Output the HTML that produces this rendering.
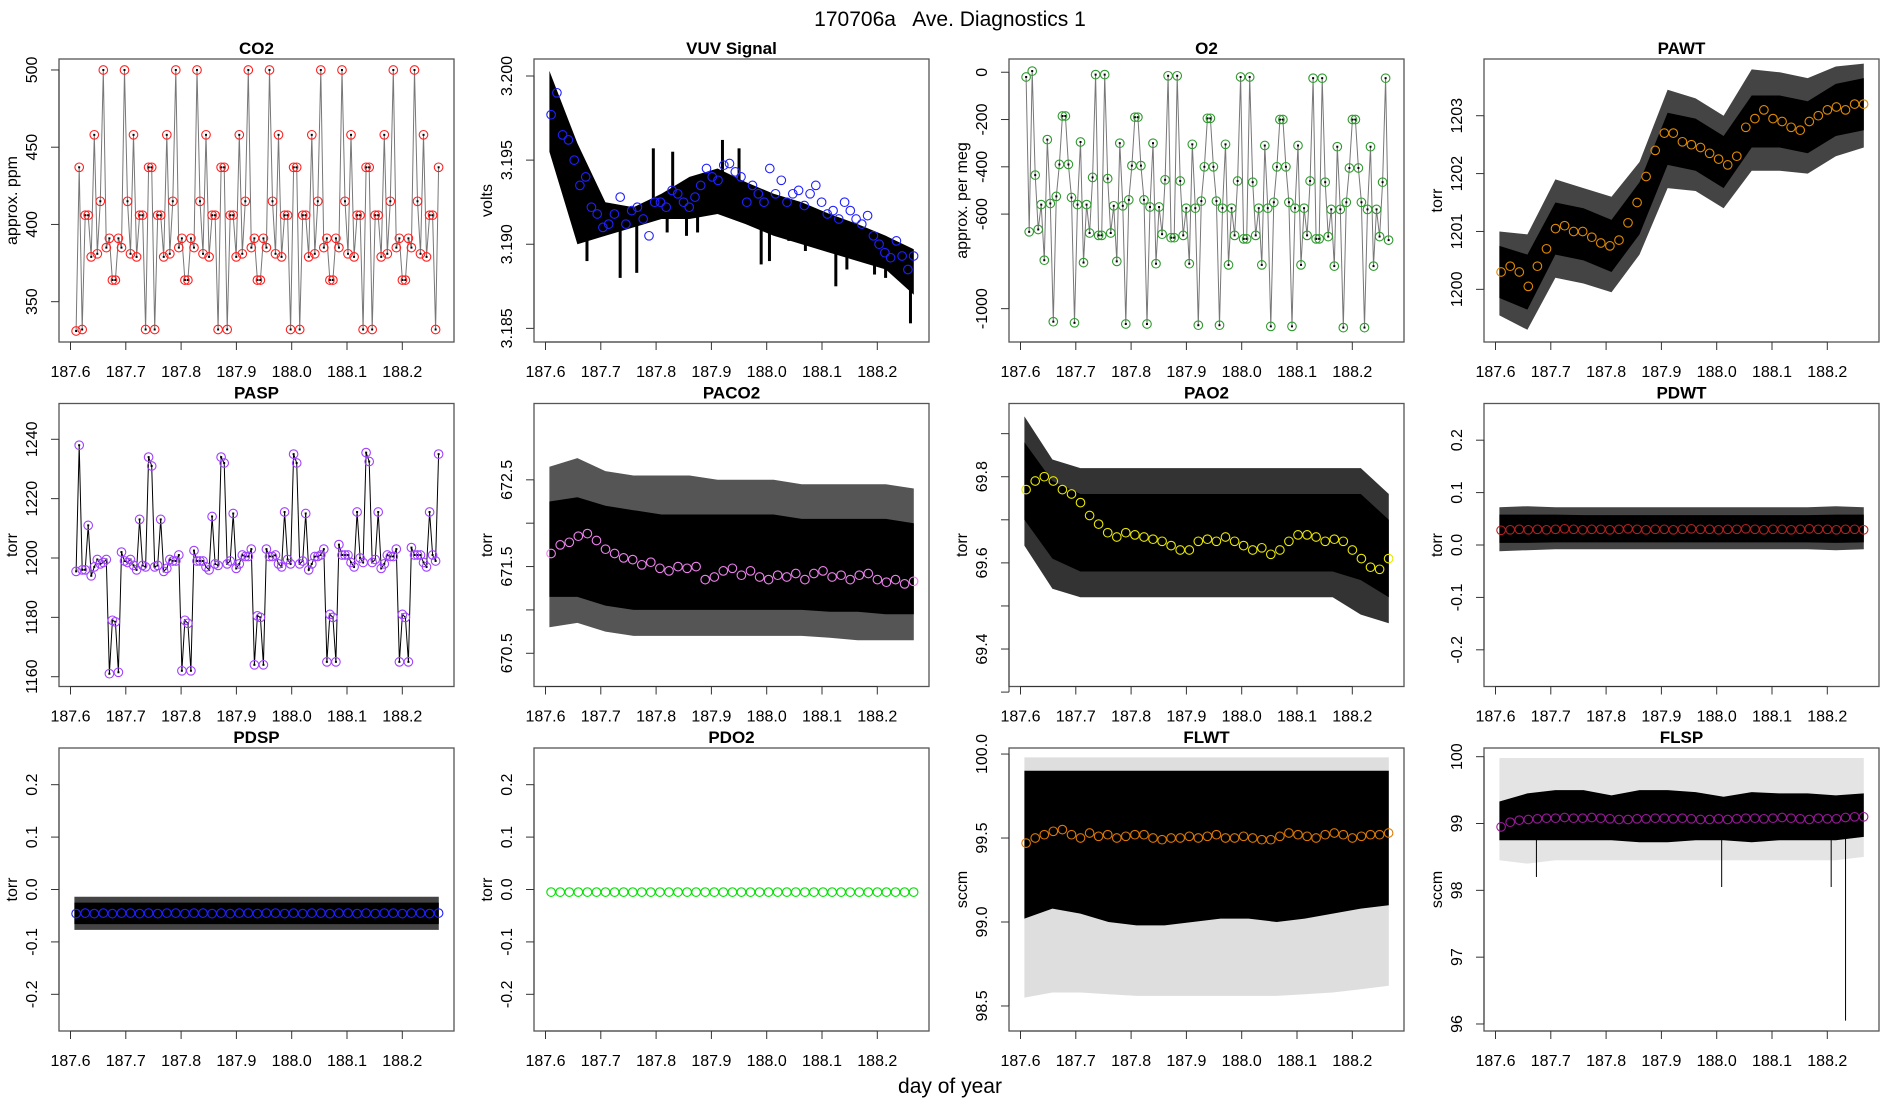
<!DOCTYPE html>
<html><head><meta charset="utf-8">
<style>
html,body{margin:0;padding:0;background:#fff;}
svg{display:block;font-family:"Liberation Sans",Arial,sans-serif;}
.pre{white-space:pre;}
</style></head>
<body>
<svg id="chart" width="1900" height="1100" viewBox="0 0 1900 1100" xmlns="http://www.w3.org/2000/svg">
<text class="pre" x="950" y="26" text-anchor="middle" font-size="21" xml:space="preserve">170706a   Ave. Diagnostics 1</text>
<text x="950" y="1093" text-anchor="middle" font-size="21">day of year</text>
</svg>
<script>
// ---- shared time axis ----
const xTickLabels = ["187.6","187.7","187.8","187.9","188.0","188.1","188.2"];
const xTickValues = [187.6,187.7,187.8,187.9,188.0,188.1,188.2];
const tStart = 187.6102, tEnd = 188.2657;
const envT0 = 187.607, envT1 = 188.266;

// ---- CO2 ----
const co2Values = [331,437,332,406,406,379,458,381,415,500,385,391,364,364,391,385,500,415,381,458,379,406,406,332,437,437,332,406,406,379,458,381,415,500,385,391,364,364,391,385,500,415,381,458,379,406,406,332,437,437,332,406,406,379,458,381,415,500,385,391,364,364,391,385,500,415,381,458,379,406,406,332,437,437,332,406,406,379,458,381,415,500,385,391,364,364,391,385,500,415,381,458,379,406,406,332,437,437,332,406,406,379,458,381,415,500,385,391,364,364,391,385,500,415,381,458,379,406,406,332,437];
const co2Ticks = [350,400,450,500];
// ---- O2 ----
const o2Values = [-20,-675,5,-435,-665,-560,-795,-285,-555,-1055,-525,-390,-185,-185,-390,-530,-1060,-560,-295,-805,-560,-680,-445,-10,-690,-690,-10,-450,-680,-565,-800,-300,-565,-1065,-540,-395,-190,-190,-395,-540,-1065,-570,-300,-810,-570,-685,-455,-15,-700,-700,-15,-460,-690,-575,-810,-305,-575,-1070,-545,-400,-195,-195,-400,-545,-1070,-575,-305,-815,-575,-690,-460,-20,-705,-705,-20,-465,-690,-575,-815,-310,-575,-1075,-550,-400,-200,-200,-400,-550,-1075,-575,-310,-815,-575,-690,-460,-25,-705,-705,-25,-465,-695,-580,-820,-315,-580,-1080,-550,-405,-200,-200,-405,-550,-1080,-580,-315,-820,-580,-695,-465,-25,-710];
const o2Ticks = [0,-200,-400,-600,-1000];
// ---- PASP ----
const paspValues = [1195.5,1238,1196,1196,1211,1194,1197,1199.5,1198,1198.5,1199.5,1161,1179,1178.5,1161.5,1202,1199,1198.5,1199.5,1197.5,1196,1213,1197.5,1197,1234,1231,1197,1197.5,1213,1195.5,1196.5,1199.5,1199,1199,1201,1162,1179,1178,1162,1202.5,1199,1199,1199,1197,1196,1214,1198,1197.5,1234,1232,1198,1199,1215,1196.5,1198,1201,1200.5,1200.5,1203,1164,1180.5,1180,1164,1203,1200.5,1200.5,1201,1198,1197,1215.5,1199.5,1198,1235,1232,1198,1199,1215,1196,1198,1200.5,1200.5,1201,1203,1165,1181,1180,1165,1204.5,1201,1201,1201,1198.5,1197,1215.5,1200,1198.5,1235.5,1232.5,1198.5,1199.5,1215.5,1196.5,1198,1201,1200.5,1200.5,1203,1165,1181,1180,1165,1203.5,1201,1201,1201,1198.5,1197,1215.5,1201,1199,1235];
const paspTicks = [1160,1180,1200,1220,1240];
// ---- VUV ----
const vuvMeans = [3.1977,3.1990,3.1965,3.1962,3.1950,3.1935,3.1940,3.1922,3.1918,3.1910,3.1912,3.1918,3.1928,3.1912,3.1920,3.1922,3.1915,3.1905,3.1925,3.1925,3.1922,3.1932,3.1930,3.1925,3.1922,3.1928,3.1935,3.1945,3.1940,3.1938,3.1947,3.1948,3.1943,3.1940,3.1925,3.1935,3.1930,3.1925,3.1945,3.1930,3.1938,3.1925,3.1930,3.1932,3.1923,3.1930,3.1935,3.1925,3.1918,3.1920,3.1915,3.1925,3.1920,3.1915,3.1912,3.1917,3.1905,3.1900,3.1895,3.1892,3.1902,3.1893,3.1885,3.1893];
const vuvInnerHi = [3.2003,3.1960,3.1925,3.1922,3.1930,3.1940,3.1945,3.1937,3.1930,3.1925,3.1918,3.1912,3.1905,3.1897];
const vuvInnerLo = [3.1955,3.1900,3.1905,3.1910,3.1915,3.1915,3.1918,3.1912,3.1905,3.1900,3.1895,3.1890,3.1885,3.1870];
const vuvSpikeT = [187.63,187.645,187.675,187.705,187.735,187.765,187.795,187.82,187.83,187.855,187.875,187.92,187.95,187.99,188.005,188.04,188.07,188.125,188.145,188.17,188.195,188.215,188.245,188.26];
const vuvSpikeV = [3.1938,3.1925,3.1890,3.1905,3.1880,3.1883,3.1957,3.1907,3.1955,3.1905,3.1907,3.1962,3.1957,3.1888,3.1890,3.1902,3.1896,3.1875,3.1885,3.1893,3.1882,3.1880,3.1880,3.1853];
const vuvTicks = [3.185,3.190,3.195,3.200];
const vuvTickLabels = ["3.185","3.190","3.195","3.200"];
// ---- PAWT ----
const pawtMeans = [1200.3,1200.4,1200.3,1200.05,1200.4,1200.7,1201.05,1201.1,1201.0,1201.0,1200.9,1200.8,1200.75,1200.85,1201.15,1201.5,1201.95,1202.4,1202.7,1202.7,1202.55,1202.5,1202.45,1202.35,1202.25,1202.15,1202.3,1202.8,1202.95,1203.1,1202.95,1202.9,1202.8,1202.75,1202.9,1203.0,1203.1,1203.15,1203.1,1203.2,1203.2];
const pawtInnerHi = [1200.75,1200.6,1201.5,1201.4,1201.2,1201.85,1203.05,1202.95,1202.65,1203.35,1203.35,1203.25,1203.55,1203.65];
const pawtInnerLo = [1199.85,1199.65,1200.6,1200.5,1200.3,1200.95,1202.15,1202.05,1201.75,1202.45,1202.45,1202.35,1202.65,1202.75];
const pawtOuterHi = [1201.0,1200.95,1201.9,1201.75,1201.6,1202.2,1203.45,1203.3,1203.0,1203.8,1203.75,1203.65,1203.85,1203.9];
const pawtOuterLo = [1199.55,1199.3,1200.2,1200.1,1199.95,1200.6,1201.75,1201.7,1201.4,1202.05,1202.05,1202.0,1202.3,1202.45];
const pawtTicks = [1200,1201,1202,1203];
// ---- PACO2 ----
const paco2Means = [671.65,671.75,671.78,671.85,671.88,671.8,671.7,671.65,671.6,671.58,671.52,671.55,671.48,671.45,671.5,671.48,671.5,671.35,671.38,671.45,671.48,671.4,671.45,671.38,671.35,671.4,671.38,671.42,671.35,671.42,671.45,671.38,671.4,671.35,671.4,671.42,671.35,671.32,671.35,671.3,671.33];
const paco2InnerHi = [672.25,672.3,672.2,672.15,672.1,672.1,672.1,672.1,672.1,672.05,672.05,672.05,672.05,672.0];
const paco2InnerLo = [671.15,671.15,671.05,671.0,671.0,671.0,671.0,671.0,671.0,671.0,670.98,670.98,670.95,670.95];
const paco2OuterHi = [672.65,672.75,672.6,672.55,672.55,672.55,672.5,672.5,672.5,672.45,672.45,672.45,672.45,672.4];
const paco2OuterLo = [670.8,670.85,670.75,670.7,670.7,670.7,670.7,670.7,670.7,670.7,670.68,670.65,670.65,670.65];
const paco2Ticks = [670.5,671.0,671.5,672.0,672.5];
const paco2TickLabels = ["670.5","","671.5","","672.5"];
// ---- PAO2 ----
const pao2Means = [69.77,69.79,69.80,69.79,69.77,69.76,69.74,69.71,69.69,69.67,69.66,69.67,69.665,69.66,69.655,69.65,69.64,69.63,69.63,69.65,69.655,69.65,69.66,69.65,69.64,69.63,69.635,69.62,69.63,69.65,69.665,69.665,69.66,69.65,69.655,69.65,69.63,69.61,69.59,69.585,69.61];
const pao2InnerHi = [69.88,69.79,69.76,69.76,69.76,69.76,69.76,69.76,69.76,69.76,69.76,69.76,69.76,69.70];
const pao2InnerLo = [69.70,69.61,69.58,69.58,69.58,69.58,69.58,69.58,69.58,69.58,69.58,69.58,69.56,69.52];
const pao2OuterHi = [69.94,69.84,69.82,69.82,69.82,69.82,69.82,69.82,69.82,69.82,69.82,69.82,69.82,69.76];
const pao2OuterLo = [69.64,69.54,69.52,69.52,69.52,69.52,69.52,69.52,69.52,69.52,69.52,69.52,69.48,69.46];
const pao2Ticks = [69.3,69.4,69.5,69.6,69.7,69.8,69.9];
const pao2TickLabels = ["","69.4","","69.6","","69.8",""];
// ---- PDWT ----
const pdwtMeans = [0.028,0.029,0.030,0.029,0.030,0.029,0.030,0.031,0.030,0.029,0.030,0.030,0.029,0.030,0.031,0.030,0.029,0.030,0.030,0.029,0.030,0.031,0.030,0.030,0.029,0.030,0.030,0.031,0.030,0.029,0.030,0.030,0.029,0.030,0.031,0.030,0.030,0.029,0.030,0.030,0.029];
const pdwtInnerHi = [0.058,0.058,0.058,0.057,0.057,0.057,0.057,0.057,0.057,0.057,0.057,0.057,0.058,0.058];
const pdwtInnerLo = [0.004,0.004,0.005,0.005,0.005,0.005,0.005,0.005,0.005,0.005,0.005,0.005,0.004,0.005];
const pdwtOuterHi = [0.072,0.074,0.072,0.072,0.072,0.072,0.072,0.072,0.072,0.072,0.072,0.072,0.074,0.072];
const pdwtOuterLo = [-0.012,-0.01,-0.008,-0.008,-0.008,-0.008,-0.008,-0.008,-0.008,-0.008,-0.008,-0.008,-0.01,-0.008];
const pdTicks = [-0.2,-0.1,0.0,0.1,0.2];
const pdTickLabels = ["-0.2","-0.1","0.0","0.1","0.2"];
// ---- PDSP ----
const pdspMeans = [-0.046,-0.045,-0.046,-0.045,-0.046,-0.045,-0.045,-0.046,-0.045,-0.046,-0.045,-0.045,-0.046,-0.045,-0.045,-0.046,-0.045,-0.046,-0.045,-0.045,-0.046,-0.045,-0.045,-0.046,-0.045,-0.046,-0.045,-0.045,-0.046,-0.045,-0.045,-0.046,-0.045,-0.046,-0.045,-0.045,-0.046,-0.045,-0.045,-0.046,-0.045];
const pdspInnerHi = [-0.025,-0.025,-0.025,-0.025,-0.025,-0.025,-0.025,-0.025,-0.025,-0.025,-0.025,-0.025,-0.025,-0.025];
const pdspInnerLo = [-0.066,-0.066,-0.066,-0.066,-0.066,-0.066,-0.066,-0.066,-0.066,-0.066,-0.066,-0.066,-0.066,-0.066];
const pdspOuterHi = [-0.014,-0.014,-0.014,-0.014,-0.014,-0.014,-0.014,-0.014,-0.014,-0.014,-0.014,-0.014,-0.014,-0.014];
const pdspOuterLo = [-0.077,-0.077,-0.077,-0.077,-0.077,-0.077,-0.077,-0.077,-0.077,-0.077,-0.077,-0.077,-0.077,-0.077];
// ---- PDO2 ----
const pdo2Means = [-0.005,-0.005,-0.005,-0.005,-0.005,-0.005,-0.005,-0.005,-0.005,-0.005,-0.005,-0.005,-0.005,-0.005,-0.005,-0.005,-0.005,-0.005,-0.005,-0.005,-0.005,-0.005,-0.005,-0.005,-0.005,-0.005,-0.005,-0.005,-0.005,-0.005,-0.005,-0.005,-0.005,-0.005,-0.005,-0.005,-0.005,-0.005,-0.005,-0.005,-0.005];
// ---- FLWT ----
const flwtMeans = [99.47,99.5,99.52,99.54,99.55,99.52,99.5,99.53,99.51,99.52,99.5,99.51,99.52,99.52,99.5,99.49,99.5,99.5,99.51,99.5,99.51,99.52,99.5,99.5,99.51,99.5,99.49,99.49,99.51,99.53,99.52,99.51,99.5,99.52,99.53,99.52,99.5,99.51,99.52,99.52,99.53];
const flwtInnerHi = [99.9,99.9,99.9,99.9,99.9,99.9,99.9,99.9,99.9,99.9,99.9,99.9,99.9,99.9];
const flwtInnerLo = [99.02,99.08,99.05,99.0,98.98,98.98,99.0,99.02,99.02,99.0,99.02,99.05,99.08,99.1];
const flwtOuterHi = [99.98,99.98,99.98,99.98,99.98,99.98,99.98,99.98,99.98,99.98,99.98,99.98,99.98,99.98];
const flwtOuterLo = [98.55,98.58,98.58,98.57,98.56,98.56,98.56,98.56,98.56,98.56,98.57,98.58,98.6,98.62];
const flwtTicks = [98.5,99.0,99.5,100.0];
const flwtTickLabels = ["98.5","99.0","99.5","100.0"];
// ---- FLSP ----
const flspMeans = [98.95,99.02,99.05,99.06,99.07,99.08,99.08,99.09,99.08,99.08,99.09,99.08,99.07,99.06,99.06,99.07,99.07,99.08,99.08,99.07,99.08,99.07,99.06,99.06,99.07,99.06,99.07,99.08,99.08,99.07,99.08,99.09,99.08,99.07,99.06,99.08,99.07,99.07,99.09,99.1,99.1];
const flspInnerHi = [99.33,99.45,99.5,99.5,99.42,99.5,99.5,99.47,99.4,99.47,99.45,99.45,99.42,99.45];
const flspInnerLo = [98.75,98.75,98.75,98.75,98.75,98.72,98.72,98.75,98.75,98.72,98.75,98.75,98.75,98.8];
const flspOuterHi = [99.98,99.98,99.98,99.98,99.98,99.98,99.98,99.98,99.98,99.98,99.98,99.98,99.98,99.98];
const flspOuterLo = [98.45,98.4,98.45,98.45,98.45,98.45,98.45,98.45,98.45,98.45,98.45,98.45,98.45,98.5];
const flspSpikeT = [187.674,188.009,188.207,188.233];
const flspSpikeV = [98.2,98.05,98.05,96.05];
const flspTicks = [96,97,98,99,100];

// ---------- drawing ----------
const NS = "http://www.w3.org/2000/svg";
const svg = document.getElementById("chart");
function mk(tag, attrs, parent){
  const e = document.createElementNS(NS, tag);
  for (const k in attrs) e.setAttribute(k, attrs[k]);
  (parent || svg).appendChild(e);
  return e;
}
const BOX_W = 395, BOX_H = 283;
function panel(col, row, title, ylab, ymin, ymax, ticks, tickLabels){
  const L = 59 + col*475, T = 59 + row*344.5;
  const g = mk("g", {});
  
  
  const sx = t => L + 11.5 + (t - 187.6) * 553;
  const sy = v => T + BOX_H - (v - ymin) / (ymax - ymin) * BOX_H;
  const plot = mk("g", {}, g);
  
  
  return {g, plot, L, T, sx, sy, finish(){
    const box = mk("rect", {x:L, y:T, width:BOX_W, height:BOX_H, fill:"none", stroke:"#555", "stroke-width":1.3}, g);
    
    
    const tt = mk("text", {x:L+BOX_W/2, y:T-5, "text-anchor":"middle", "font-size":17, "font-weight":"bold"}, g);
    tt.textContent = title;
    
    
    const yl = mk("text", {x:0, y:0, "text-anchor":"middle", "font-size":16, transform:`translate(${L-42},${T+BOX_H/2}) rotate(-90)`}, g);
    yl.textContent = ylab;
    
    
    const xa = mk("g", {}, g);
    
    
    mk("line", {x1:sx(xTickValues[0]), x2:sx(xTickValues[xTickValues.length-1]), y1:T+BOX_H, y2:T+BOX_H, stroke:"#333"}, xa);
    xTickValues.forEach((v,i)=>{
      mk("line", {x1:sx(v), x2:sx(v), y1:T+BOX_H, y2:T+BOX_H+8, stroke:"#333"}, xa);
      const lt = mk("text", {x:sx(v), y:T+BOX_H+35, "text-anchor":"middle", "font-size":16}, xa);
      lt.textContent = xTickLabels[i];
      
      
    });
    const ya = mk("g", {}, g);
    
    
    mk("line", {x1:L, x2:L, y1:sy(ticks[0]), y2:sy(ticks[ticks.length-1]), stroke:"#333"}, ya);
    ticks.forEach((v,i)=>{
      mk("line", {x1:L-8, x2:L, y1:sy(v), y2:sy(v), stroke:"#333"}, ya);
      const lab = tickLabels ? tickLabels[i] : String(v);
      if (lab !== ""){
        const lt = mk("text", {x:0, y:0, "text-anchor":"middle", "font-size":16, transform:`translate(${L-22},${sy(v)}) rotate(-90)`}, ya);
        lt.textContent = lab;
        
        
      }
    });
  }};
}
function seriesX(i, n){ return tStart + i * (tEnd - tStart) / (n - 1); }
function envX(i, n){ return envT0 + i * (envT1 - envT0) / (n - 1); }
function band(p, hi, lo, fill, name){
  let d = "";
  hi.forEach((v,i)=>{ d += (i? "L":"M") + p.sx(envX(i,hi.length)).toFixed(1) + "," + p.sy(v).toFixed(1); });
  for (let i = lo.length-1; i >= 0; i--) d += "L" + p.sx(envX(i,lo.length)).toFixed(1) + "," + p.sy(lo[i]).toFixed(1);
  const e = mk("path", {d: d + "Z", fill: fill}, p.plot);
  
  
}
function envAt(arr, t){
  const n = arr.length, f = (t - envT0) / (envT1 - envT0) * (n - 1);
  const i = Math.max(0, Math.min(n - 2, Math.floor(f))), r = f - i;
  return arr[i] * (1 - r) + arr[i+1] * r;
}
function spikes(p, ts, vs, hi, lo, width, name){
  ts.forEach((t,i)=>{
    const base = (envAt(hi,t) + envAt(lo,t)) / 2;
    const e = mk("line", {x1:p.sx(t), x2:p.sx(t), y1:p.sy(base), y2:p.sy(vs[i]), stroke:"#000", "stroke-width":width}, p.plot);
    
    
  });
}
function circles(p, vals, color, name){
  vals.forEach((v,i)=>{
    const c = mk("circle", {cx:p.sx(seriesX(i, vals.length)).toFixed(1), cy:p.sy(v).toFixed(1), r:4.3, fill:"none", stroke:color, "stroke-width":1.1}, p.plot);
    
    
  });
}
function lineSeries(p, vals, color, name){
  let d = "";
  vals.forEach((v,i)=>{ d += (i? "L":"M") + p.sx(seriesX(i, vals.length)).toFixed(1) + "," + p.sy(v).toFixed(1); });
  const e = mk("path", {d, fill:"none", stroke:color, "stroke-width":1}, p.plot);
  
  
  vals.forEach((v,i)=>{
    const dot = mk("rect", {x:p.sx(seriesX(i, vals.length))-1, y:p.sy(v)-1, width:2, height:2, fill:"#000"}, p.plot);
    
    
  });
}

let p = panel(0,0,"CO2","approx. ppm",323.9,507.1,co2Ticks);
lineSeries(p, co2Values, "#777", "co2-line");
circles(p, co2Values, "#ff2020", "co2-point");
p.finish();
p = panel(1,0,"VUV Signal","volts",3.18419,3.20101,vuvTicks,vuvTickLabels);
band(p, vuvInnerHi, vuvInnerLo, "#000", "vuv-noise-band");
spikes(p, vuvSpikeT, vuvSpikeV, vuvInnerHi, vuvInnerLo, 3, "vuv-spike");
circles(p, vuvMeans, "#2020ff", "vuv-mean-point");
p.finish();
p = panel(2,0,"O2","approx. per meg",-1141,56,o2Ticks);
lineSeries(p, o2Values, "#777", "o2-line");
circles(p, o2Values, "#2e9a2e", "o2-point");
p.finish();
p = panel(3,0,"PAWT","torr",1199.09,1203.98,pawtTicks);
band(p, pawtOuterHi, pawtOuterLo, "#444", "pawt-noise-fringe");
band(p, pawtInnerHi, pawtInnerLo, "#000", "pawt-noise-band");
circles(p, pawtMeans, "#e08a00", "pawt-mean-point");
p.finish();
p = panel(0,1,"PASP","torr",1156.7,1252.06,paspTicks);
lineSeries(p, paspValues, "#000", "pasp-line");
circles(p, paspValues, "#a040ff", "pasp-point");
p.finish();
p = panel(1,1,"PACO2","torr",670.117,673.38,paco2Ticks,paco2TickLabels);
band(p, paco2OuterHi, paco2OuterLo, "#555", "paco2-noise-fringe");
band(p, paco2InnerHi, paco2InnerLo, "#000", "paco2-noise-band");
circles(p, paco2Means, "#ee82ee", "paco2-mean-point");
p.finish();
p = panel(2,1,"PAO2","torr",69.313,69.970,pao2Ticks,pao2TickLabels);
band(p, pao2OuterHi, pao2OuterLo, "#333", "pao2-noise-fringe");
band(p, pao2InnerHi, pao2InnerLo, "#000", "pao2-noise-band");
circles(p, pao2Means, "#e8e800", "pao2-mean-point");
p.finish();
p = panel(3,1,"PDWT","torr",-0.27,0.27,pdTicks,pdTickLabels);
band(p, pdwtOuterHi, pdwtOuterLo, "#444", "pdwt-noise-fringe");
band(p, pdwtInnerHi, pdwtInnerLo, "#000", "pdwt-noise-band");
circles(p, pdwtMeans, "#b22222", "pdwt-mean-point");
p.finish();
p = panel(0,2,"PDSP","torr",-0.27,0.27,pdTicks,pdTickLabels);
band(p, pdspOuterHi, pdspOuterLo, "#444", "pdsp-noise-fringe");
band(p, pdspInnerHi, pdspInnerLo, "#000", "pdsp-noise-band");
circles(p, pdspMeans, "#2020ff", "pdsp-mean-point");
p.finish();
p = panel(1,2,"PDO2","torr",-0.27,0.27,pdTicks,pdTickLabels);
circles(p, pdo2Means, "#00e000", "pdo2-mean-point");
p.finish();
p = panel(2,2,"FLWT","sccm",98.351,100.036,flwtTicks,flwtTickLabels);
band(p, flwtOuterHi, flwtOuterLo, "#dedede", "flwt-noise-fringe");
band(p, flwtInnerHi, flwtInnerLo, "#000", "flwt-noise-band");
circles(p, flwtMeans, "#e07800", "flwt-mean-point");
p.finish();
p = panel(3,2,"FLSP","sccm",95.895,100.13,flspTicks);
band(p, flspOuterHi, flspOuterLo, "#e4e4e4", "flsp-noise-fringe");
band(p, flspInnerHi, flspInnerLo, "#000", "flsp-noise-band");
spikes(p, flspSpikeT, flspSpikeV, flspInnerHi, flspInnerLo, 1, "flsp-spike");
circles(p, flspMeans, "#9a1a9a", "flsp-mean-point");
p.finish();
</script>
</body></html>
